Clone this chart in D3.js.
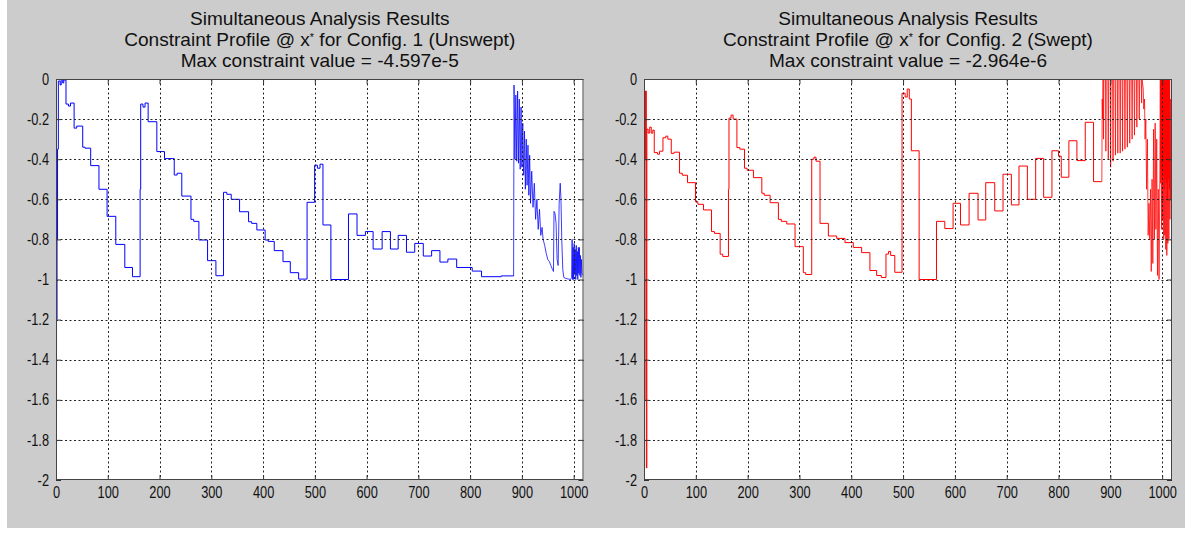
<!DOCTYPE html>
<html><head><meta charset="utf-8">
<script src="https://cdn.jsdelivr.net/npm/d3@7"></script>
<style>html,body{margin:0;padding:0;background:#fff;}svg{display:block;}</style>
</head><body>
<svg id="chart" width="1185" height="536"></svg>
<script>
// ---------- data ----------
const xTickValues = [0,100,200,300,400,500,600,700,800,900,1000];
const xTickLabels = ["0","100","200","300","400","500","600","700","800","900","1000"];
const yTickValues = [0,-0.2,-0.4,-0.6,-0.8,-1,-1.2,-1.4,-1.6,-1.8,-2];
const yTickLabels = ["0","-0.2","-0.4","-0.6","-0.8","-1","-1.2","-1.4","-1.6","-1.8","-2"];
const xDomain = [0, 1019];
const yDomain = [-2, 0];

const title1 = ["Simultaneous Analysis Results", "Constraint Profile @ x|*| for Config. 1 (Unswept)", "Max constraint value = -4.597e-5"];
const title2 = ["Simultaneous Analysis Results", "Constraint Profile @ x|*| for Config. 2 (Swept)", "Max constraint value = -2.964e-6"];

// Config 1 (Unswept): staircase part [index, value]
const config1Steps = [[0,-1.67],[1,-1.2],[2,-0.8],[3,-0.35],[4.5,-0.01],[8,-0.03],[10,0],[13,-0.02],[15,-0.005],
 [19.3,-0.125],[24,-0.135],[28,-0.12],[35,-0.245],[40,-0.235],[51.6,-0.34],[56,-0.345],[67,-0.432],[83,-0.55],[98.7,-0.685],
 [115.5,-0.825],[132.9,-0.94],[147.7,-0.986],[162.5,-0.55],[163.6,-0.125],[168,-0.14],[172,-0.12],[178,-0.213],[194.8,-0.362],
 [209.6,-0.397],[228.4,-0.479],[234,-0.47],[243,-0.584],[260.7,-0.70],[266,-0.71],[276,-0.803],[292.8,-0.906],[308.9,-0.981],
 [323.6,-0.565],[330,-0.575],[338.5,-0.60],[354.6,-0.662],[372,-0.712],[378,-0.72],[388,-0.753],[404,-0.803],[410,-0.81],
 [421.6,-0.856],[438.5,-0.911],[452.6,-0.966],[468.7,-0.998],[485,-0.615],[499.6,-0.43],[505,-0.445],[510,-0.425],
 [515.7,-0.728],[531,-1.0],[565,-0.673],[581.5,-0.78],[597.7,-0.761],[612.6,-0.848],[630,-0.761],[646,-0.848],
 [661,-0.78],[677,-0.864],[693,-0.82],[709.5,-0.883],[725.6,-0.856],[741.7,-0.913],[757,-0.898],[774,-0.94],
 [804,-0.958],[822,-0.986],[860,-0.982],[884,-0.978]];
// Config 1: oscillating tail
const config1Tail = [[884,-0.978],[884.8,-0.03],[886.5,-0.40],[888.3,-0.08],[890,-0.41],[891.7,-0.06],[893.4,-0.42],
 [895,-0.10],[896.7,-0.45],[898.4,-0.14],[900,-0.44],[901.7,-0.22],[903.4,-0.48],[905,-0.26],[906.7,-0.55],[908.4,-0.30],
 [910,-0.53],[911.7,-0.33],[913.4,-0.58],[915,-0.38],[916.7,-0.62],[919,-0.46],
 [921.5,-0.64],[924,-0.52],[926.5,-0.70],[929,-0.60],[931.5,-0.75],[934,-0.65],[936.5,-0.78],[939,-0.74],[941,-0.80],
 [944,-0.83],[947,-0.87],[950,-0.90],[953,-0.91],[956,-0.93],[959,-0.95],[961,-0.96],[962,-0.66],[964,-0.67],
 [966,-0.72],[968,-0.90],[970,-0.93],[972,-0.62],[974,-0.52],[975.5,-0.60],[977,-0.80],[979,-0.95],[981,-0.99],
 [985,-0.995],[994,-1.0],[996,-0.99],[997,-0.80],[998,-1.0],[999,-0.84],[1000,-1.0],[1001,-0.82],[1002,-0.97],
 [1003,-0.85],[1004,-1.0],[1005,-0.83],[1006,-0.98],[1007,-0.86],[1008,-1.0],[1009,-0.84],[1010,-0.97],[1011,-0.84],
 [1012,-0.98],[1013,-0.88],[1014,-0.99],[1015,-0.90],[1016,-0.97],[1019,-0.98]];

// Config 2 (Swept): staircase part
const config2Steps = [[0,-1.0],[1,-1.6],[2,-0.4],[3,-0.06],[4.5,-1.94],[5.5,-0.25],[8,-0.27],[11,-0.24],[14,-0.27],
 [17,-0.255],[19.8,-0.367],[26,-0.375],[30,-0.36],[36.6,-0.293],[42,-0.285],[46,-0.30],[52.6,-0.371],[58,-0.365],
 [68.6,-0.47],[74,-0.48],[84,-0.517],[99.4,-0.612],[104,-0.625],[114.8,-0.653],[130.3,-0.761],[136,-0.77],[147,-0.874],
 [152,-0.885],[163,-0.55],[164,-0.195],[168,-0.18],[172,-0.2],[179.3,-0.342],[185,-0.35],[194,-0.445],[199,-0.455],
 [211.2,-0.492],[227.4,-0.57],[232,-0.58],[243.4,-0.617],[259.4,-0.70],[265,-0.71],[275.5,-0.723],[291.5,-0.836],
 [307.5,-0.966],[312,-0.975],[323.7,-0.40],[328,-0.39],[332,-0.41],[339.7,-0.72],[355.8,-0.783],[371.9,-0.795],
 [387.9,-0.816],[403.9,-0.84],[420,-0.866],[436,-0.955],[449,-0.98],[458,-0.99],[467,-0.873],[472,-0.86],[476,-0.88],
 [484,-0.964],[498,-0.071],[504,-0.09],[508,-0.05],[512,-0.1],[516,-0.358],[531,-1.0],[564.5,-0.71],[580.5,-0.746],
 [596.5,-0.62],[610.8,-0.728],[627.4,-0.57],[644.7,-0.703],[659.5,-0.517],[676.9,-0.658],[692.9,-0.475],[709,-0.628],
 [723.7,-0.434],[739.9,-0.60],[755.9,-0.396],[771.3,-0.59],[787.3,-0.358],[800,-0.385],[805.3,-0.49],[820,-0.308],
 [835.5,-0.407],[851.6,-0.216],[867.6,-0.512],[883.6,-0.512]];
// Config 2: oscillating tail
const config2Tail = [[883.6,-0.512],[884.3,-0.10],[885.2,-0.2],[886,0],[886.8,-0.30],[887.6,0],[890.6,0],[891.4,-0.36],
 [892.2,0],[895.2,0],[896,-0.40],[896.8,0],[899.8,0],[900.6,-0.44],[901.4,0],[904.4,0],[905.2,-0.41],[906,0],
 [909,0],[909.8,-0.38],[910.6,0],[913.6,0],[914.4,-0.37],[915.2,0],[918.2,0],[919,-0.37],[919.8,0],[922.8,0],
 [923.6,-0.36],[924.4,0],[927.4,0],[928.2,-0.35],[929,0],[932,0],[932.8,-0.34],[933.6,0],[936.6,0],[937.4,-0.32],
 [938.2,0],[941.2,0],[942,-0.30],[942.8,0],[945.8,0],[946.6,-0.28],[947.4,0],[950.4,0],[951.2,-0.24],[952,0],
 [955,0],[955.8,-0.20],[956.6,0],[959.6,0],[960.4,-0.12],[961.2,0],[963.5,-0.05],[964.5,-0.15],[966,-0.1],
 [967,-0.3],[968.5,-0.2],[970,-0.55],[971.5,-0.3],[973,-0.78],[974.5,-0.62],[976,-0.80],[977.5,-0.55],[979,-0.96],
 [980.5,-0.5],[982,-0.92],[983.5,-0.25],[985,-0.80],[986.5,-0.22],[988,-0.75],[989.5,-0.3],[991,-0.98],[992.5,-0.55],
 [994,-1.0],[995.5,-0.5],[996.5,0],[997,-0.52],[997.5,0],[998,-0.45],[998.5,0],[999,-0.75],[999.5,0],[1000,-0.5],
 [1000.5,0],[1001,-0.70],[1001.5,0],[1002,-0.48],[1002.5,0],[1003,-0.80],[1003.5,0],[1004,-0.55],[1004.5,0],
 [1005,-0.78],[1005.5,0],[1006,-0.50],[1006.5,0],[1007,-0.85],[1007.5,0],[1008,-0.52],[1008.5,0],[1009,-0.88],
 [1009.5,0],[1010,-0.60],[1010.5,0],[1011,-0.82],[1011.5,0],[1012,-0.50],[1012.5,0],[1013,-0.80],[1013.5,0],
 [1014,-0.55],[1014.5,0],[1015,-0.70],[1015.5,-0.1],[1016.5,-0.6],[1017.5,-0.1],[1018.5,-0.5]];

// ---------- layout ----------
const svg = d3.select("#chart");
const FONT = "'Liberation Sans', Arial, sans-serif";
svg.append("rect").attr("x", 7).attr("y", 0).attr("width", 1178).attr("height", 528).attr("fill", "#cccccc");

function squeeze(sel, f) {
  sel.each(function(){ const w = this.getComputedTextLength(); d3.select(this).attr("textLength", w*f).attr("lengthAdjust","spacingAndGlyphs"); });
}

function panel(left, right, steps, tail, color, titleLines, id) {
  const top = 79, bottom = 480;
  const x = d3.scaleLinear().domain(xDomain).range([left, right]);
  const y = d3.scaleLinear().domain(yDomain).range([bottom, top]);
  const g = svg.append("g");
  g.append("rect").attr("x", left).attr("y", top).attr("width", right-left).attr("height", bottom-top).attr("fill", "#fff");
  g.append("clipPath").attr("id", id).append("rect").attr("x", left).attr("y", top).attr("width", right-left).attr("height", bottom-top);

  const stepLine = d3.line().x(d => x(d[0])).y(d => y(d[1])).curve(d3.curveStepAfter);
  const linLine = d3.line().x(d => x(d[0])).y(d => y(d[1]));
  g.append("path").attr("d", stepLine(steps)).attr("fill", "none").attr("stroke", color)
    .attr("stroke-width", 1).attr("clip-path", `url(#${id})`);
  g.append("path").attr("d", linLine(tail)).attr("fill", "none").attr("stroke", color)
    .attr("stroke-width", 0.9).attr("stroke-opacity", 0.85).attr("clip-path", `url(#${id})`);

  // grid (on top, like the reference)
  const grid = g.append("g").attr("stroke", "#222").attr("stroke-width", 1).attr("stroke-dasharray", "2,2.5");
  xTickValues.filter(v => v > 0).forEach(v => {
    const px = Math.round(x(v)) + 0.5;
    grid.append("line").attr("x1", px).attr("x2", px).attr("y1", top).attr("y2", bottom);
  });
  yTickValues.filter(v => v < 0 && v > -2).forEach(v => {
    const py = Math.round(y(v)) + 0.5;
    grid.append("line").attr("x1", left).attr("x2", right).attr("y1", py).attr("y2", py);
  });

  // axes via d3 axis generators (ticks inward, all four sides)
  const axStyle = s => { s.select(".domain").remove(); s.selectAll("line").attr("stroke", "#333"); };
  const bottomAx = g.append("g").attr("transform", `translate(0,${bottom})`)
    .call(d3.axisBottom(x).tickValues(xTickValues).tickSize(-5).tickPadding(7).tickFormat((d,i) => xTickLabels[i]));
  const topAx = g.append("g").attr("transform", `translate(0,${top})`)
    .call(d3.axisTop(x).tickValues(xTickValues).tickSize(-5).tickFormat(""));
  const leftAx = g.append("g").attr("transform", `translate(${left},0)`)
    .call(d3.axisLeft(y).tickValues(yTickValues).tickSize(-5).tickPadding(7).tickFormat((d,i) => yTickLabels[i]));
  const rightAx = g.append("g").attr("transform", `translate(${right},0)`)
    .call(d3.axisRight(y).tickValues(yTickValues).tickSize(-5).tickFormat(""));
  [bottomAx, topAx, leftAx, rightAx].forEach(a => { axStyle(a); a.selectAll("text").attr("fill", "#111").style("font-family", FONT).style("font-size", "16px"); });
  g.append("rect").attr("x", left+0.5).attr("y", top+0.5).attr("width", right-left-1).attr("height", bottom-top-1)
    .attr("fill", "none").attr("stroke", "#444").attr("stroke-width", 1);
  squeeze(bottomAx.selectAll("text"), 0.8);
  squeeze(leftAx.selectAll("text"), 0.8);

  // title
  const cx = (left + right) / 2;
  const t = g.append("g").attr("fill", "#111").style("font-family", FONT).style("font-size", "18.5px");
  titleLines.forEach((s, i) => {
    const txt = t.append("text").attr("x", cx).attr("y", 25 + i*20.8).attr("text-anchor", "middle");
    const parts = s.split("|");
    parts.forEach((p, j) => {
      const ts = txt.append("tspan").text(p);
      if (j === 1) ts.attr("dy", -5).style("font-size", "10.5px");
      if (j === 2) ts.attr("dy", 5);
    });
    squeeze(txt, 1.03);
  });
}

panel(56, 583.5, config1Steps, config1Tail, "#0000ff", title1, "clip1");
panel(644, 1172, config2Steps, config2Tail, "#ff0000", title2, "clip2");
</script>
</body></html>
